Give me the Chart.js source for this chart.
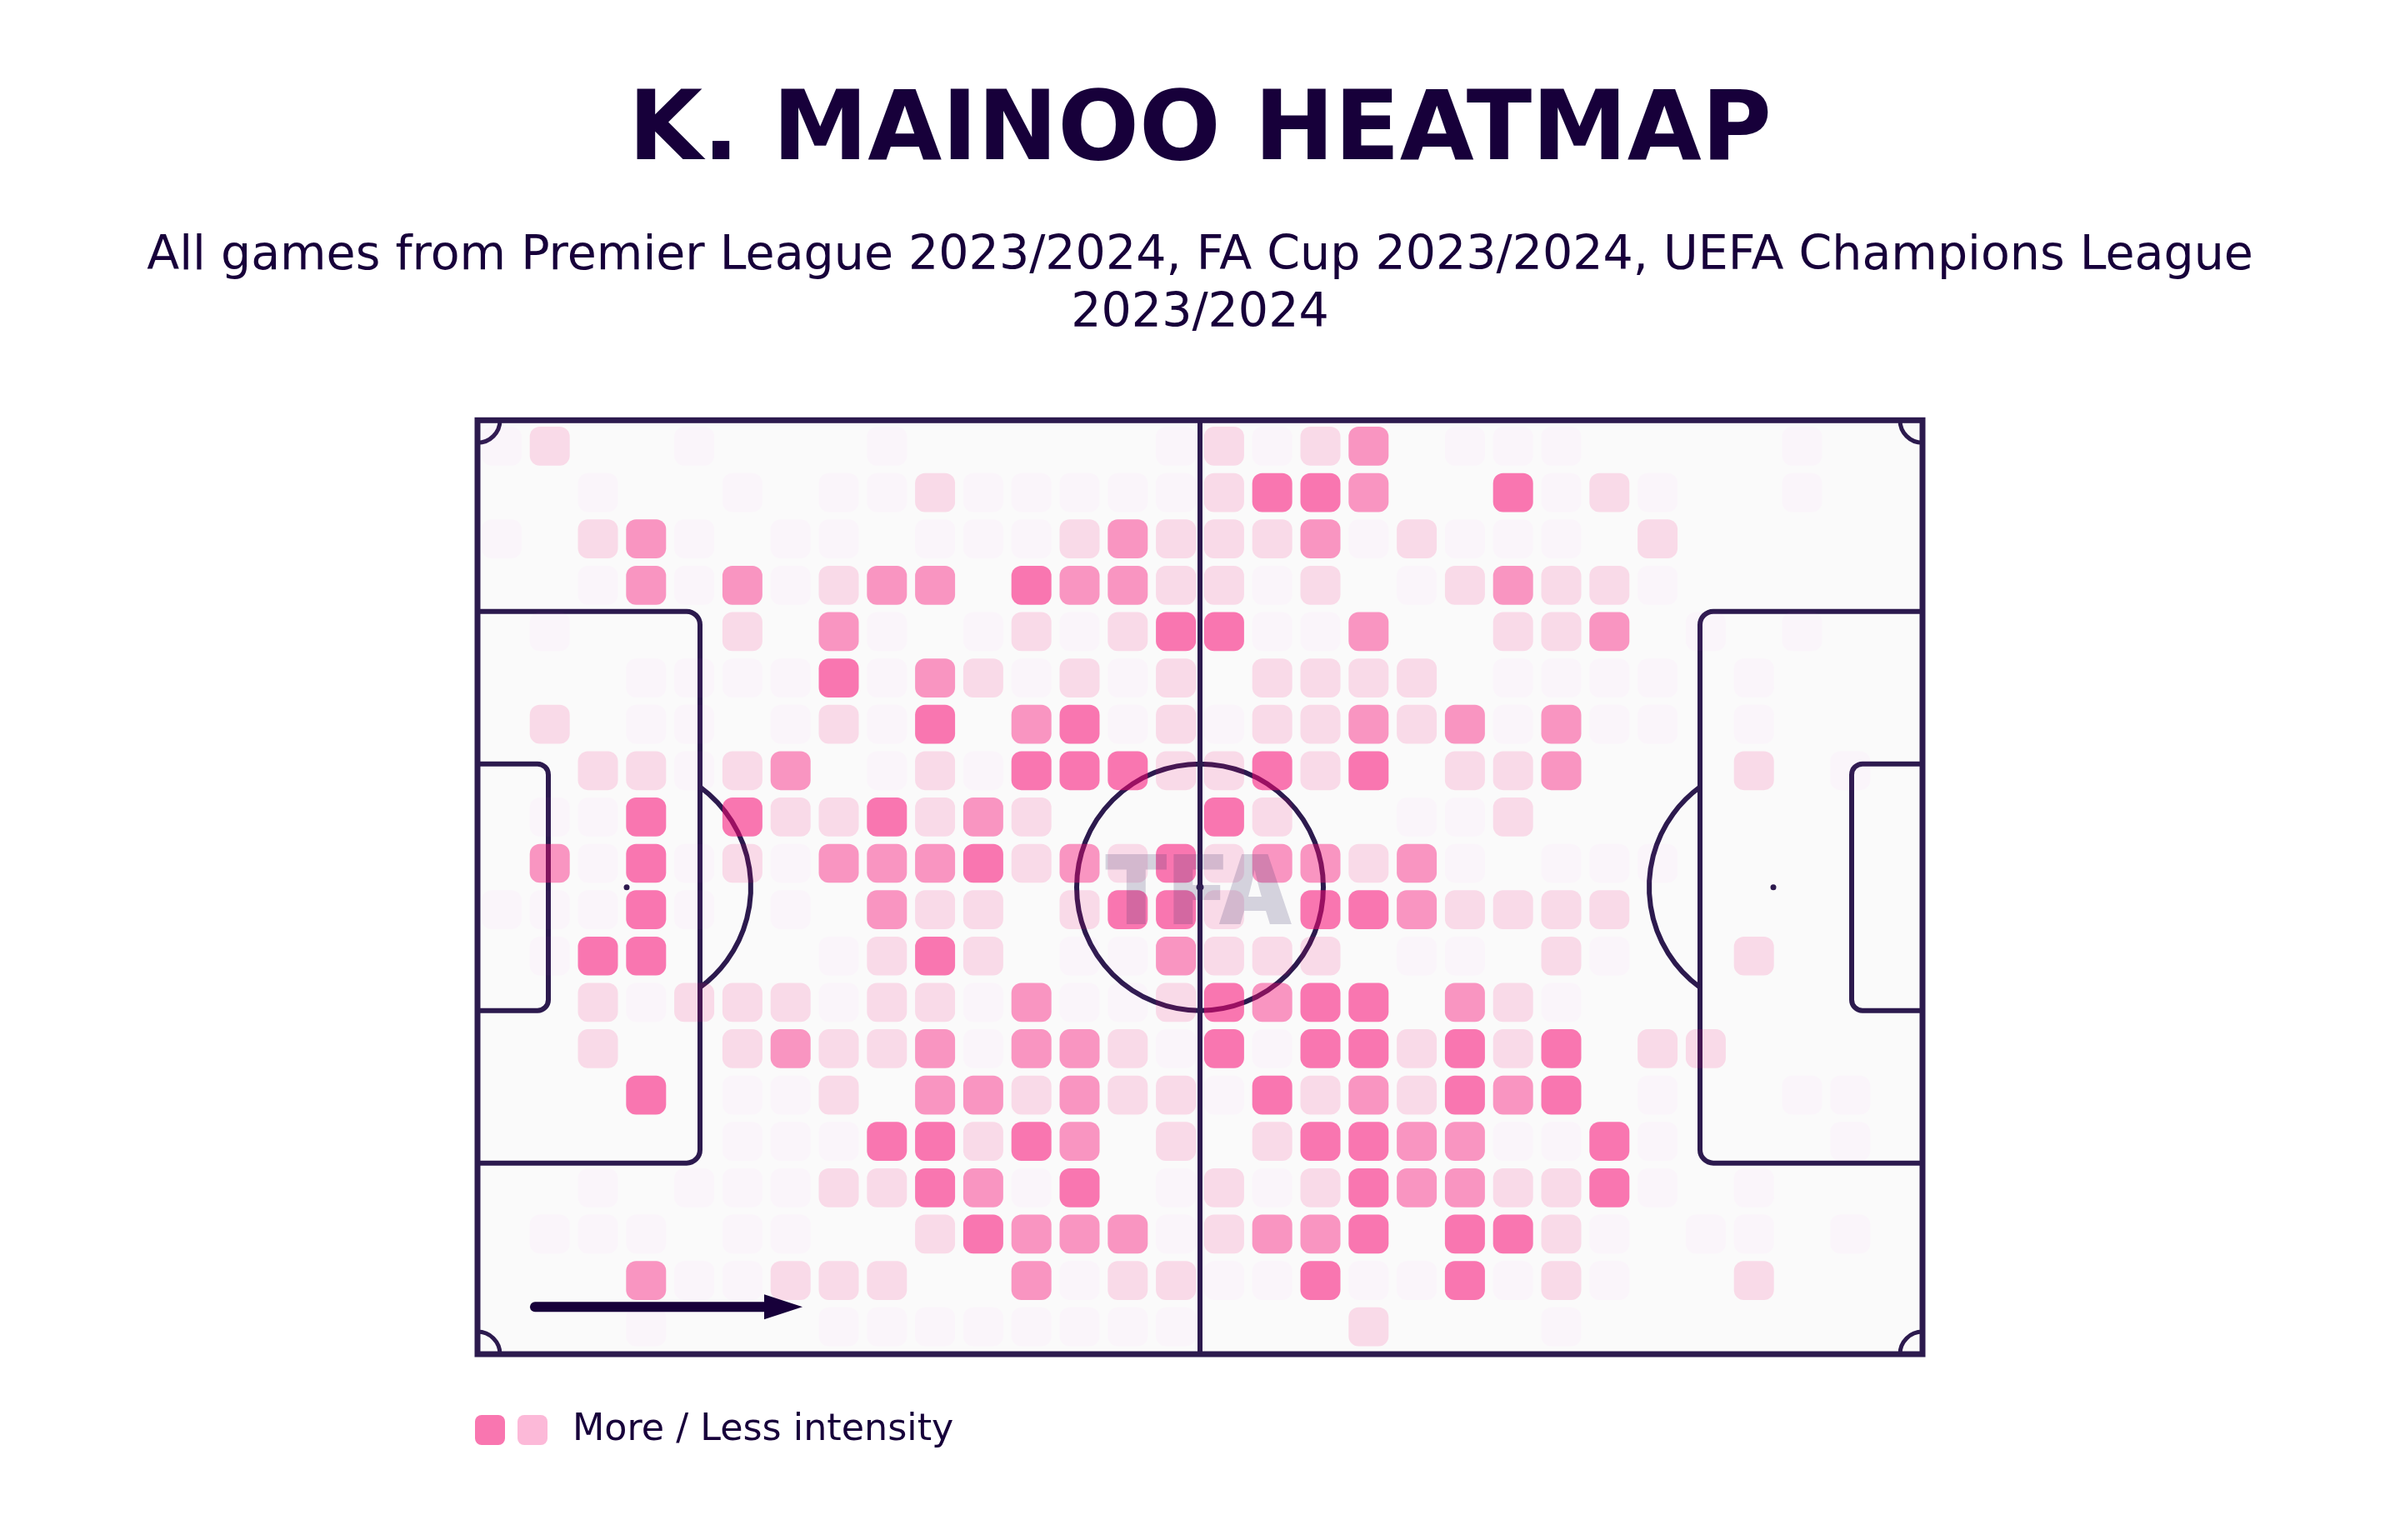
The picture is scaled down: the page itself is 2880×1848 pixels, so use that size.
<!DOCTYPE html>
<html>
<head>
<meta charset="utf-8">
<style>html,body{margin:0;padding:0;background:#fff}canvas{display:block}</style>
<script src="https://cdn.jsdelivr.net/npm/chart.js@4"></script>
</head>
<body>
<canvas id="c" width="2880" height="1848" style="width:2880px;height:1848px"></canvas>
<script>
const titleText = "K. MAINOO HEATMAP";
const subtitleLines = ["All games from Premier League 2023/2024, FA Cup 2023/2024, UEFA Champions League", "2023/2024"];
const legendText = "More / Less intensity";
const watermarkText = "TFA";

const columns = ["c1","c2","c3","c4","c5","c6","c7","c8","c9","c10","c11","c12","c13","c14","c15","c16","c17","c18","c19","c20","c21","c22","c23","c24","c25","c26","c27","c28","c29","c30"];
// intensity level per cell: 0 none, 1 faint, 2 light, 3 medium, 4 strong
const row01 = [1,2,0,0,1,0,0,0,1,0,0,0,0,0,1,2,1,2,3,0,1,1,1,0,0,0,0,1,0,0];
const row02 = [0,0,1,0,0,1,0,1,1,2,1,1,1,1,1,2,4,4,3,0,0,4,1,2,1,0,0,1,0,0];
const row03 = [1,0,2,3,1,0,1,1,0,1,1,1,2,3,2,2,2,3,1,2,1,1,1,0,2,0,0,0,0,0];
const row04 = [0,0,1,3,1,3,1,2,3,3,0,4,3,3,2,2,1,2,0,1,2,3,2,2,1,0,0,0,0,0];
const row05 = [0,1,0,0,0,2,0,3,1,0,1,2,1,2,4,4,1,1,3,0,0,2,2,3,0,1,0,1,0,0];
const row06 = [0,0,0,1,1,1,1,4,1,3,2,1,2,1,2,0,2,2,2,2,0,1,1,1,1,0,1,0,0,0];
const row07 = [0,2,0,1,1,0,1,2,1,4,0,3,4,1,2,1,2,2,3,2,3,1,3,1,1,0,1,0,0,0];
const row08 = [0,0,2,2,1,2,3,0,1,2,1,4,4,4,2,2,4,2,4,0,2,2,3,0,0,0,2,0,1,0];
const row09 = [0,1,1,4,0,4,2,2,4,2,3,2,0,0,0,4,2,0,0,1,1,2,0,0,0,0,0,0,0,0];
const row10 = [0,3,1,4,1,2,1,3,3,3,4,2,3,2,4,2,3,3,2,3,1,0,1,1,1,0,0,0,0,0];
const row11 = [1,1,1,4,1,0,1,0,3,2,2,0,2,4,4,2,0,4,4,3,2,2,2,2,0,0,0,0,0,0];
const row12 = [0,1,4,4,0,0,0,1,2,4,2,0,1,1,3,2,2,2,0,1,1,0,2,1,0,0,2,0,0,0];
const row13 = [0,0,2,1,2,2,2,1,2,2,1,3,1,1,2,4,3,4,4,0,3,2,1,0,0,0,0,0,0,0];
const row14 = [0,0,2,0,0,2,3,2,2,3,1,3,3,2,1,4,1,4,4,2,4,2,4,0,2,2,0,0,0,0];
const row15 = [0,0,0,4,0,1,1,2,0,3,3,2,3,2,2,1,4,2,3,2,4,3,4,0,1,0,0,1,1,0];
const row16 = [0,0,0,0,0,1,1,1,4,4,2,4,3,0,2,0,2,4,4,3,3,1,1,4,1,0,0,0,1,0];
const row17 = [0,0,1,0,1,1,1,2,2,4,3,1,4,0,1,2,1,2,4,3,3,2,2,4,1,0,1,0,0,0];
const row18 = [0,1,1,1,0,1,1,0,0,2,4,3,3,3,1,2,3,3,4,0,4,4,2,1,0,1,1,0,1,0];
const row19 = [0,0,0,3,1,1,2,2,2,0,0,3,1,2,2,1,1,4,1,1,4,1,2,1,0,0,2,0,0,0];
const row20 = [0,0,0,1,0,0,0,1,1,1,1,1,1,1,1,0,0,0,2,0,0,0,1,0,0,0,0,0,0,0];
const rows = [row01,row02,row03,row04,row05,row06,row07,row08,row09,row10,row11,row12,row13,row14,row15,row16,row17,row18,row19,row20];

const levelColors = [null,"rgba(250,100,250,0.03)","rgba(248,10,115,0.13)","rgba(248,10,115,0.42)","rgba(248,10,115,0.55)"];
const lineColor = "#2c1a4e";
const inkColor = "#17003a";

const datasets = rows.map((r,i)=>({
  label:"row "+(i+1),
  data:r.map(v=>v? [i+0.08,i+0.92]:null),
  backgroundColor:r.map(v=>levelColors[v]||"transparent"),
  borderSkipped:false,
  borderWidth:0,
  borderRadius:12,
  grouped:false,
  barPercentage:0.83,
  categoryPercentage:1
}));

// Pitch markings in pixel offsets measured against the chart area
const pitchPlugin = {
  id:"pitch",
  beforeDatasetsDraw(chart){
    const {ctx,chartArea:a} = chart;
    const L=a.left,R=a.right,T=a.top,B=a.bottom,CX=(L+R)/2,CY=(T+B)/2;
    ctx.save();
    ctx.fillStyle="#fafafa";
    ctx.fillRect(L,T,R-L,B-T);
    ctx.strokeStyle=lineColor; ctx.fillStyle=lineColor; ctx.lineWidth=6;
    const arc=(x,y,r,s,e)=>{ctx.beginPath();ctx.arc(x,y,r,s,e);ctx.stroke();};
    const box=(side,depth,half,rad)=>{
      const x0=side<0?L:R, x1=x0-side*depth;
      ctx.beginPath();
      ctx.moveTo(x0,CY-half);
      ctx.arcTo(x1,CY-half,x1,CY+half,rad);
      ctx.arcTo(x1,CY+half,x0,CY+half,rad);
      ctx.lineTo(x0,CY+half);
      ctx.stroke();
    };
    [-1,1].forEach(side=>{
      box(side,267,331,16);
      box(side,85,148,13);
      const sx=side<0?L+179:R-179;
      ctx.beginPath();ctx.arc(sx,CY,3.5,0,Math.PI*2);ctx.fill();
      const ang=Math.acos(88/149);
      if(side<0) arc(sx,CY,149,-ang,ang); else arc(sx,CY,149,Math.PI-ang,Math.PI+ang);
    });
    ctx.lineWidth=6;
    ctx.beginPath();ctx.moveTo(CX,T);ctx.lineTo(CX,B);ctx.stroke();
    arc(CX,CY,148,0,Math.PI*2);
    ctx.beginPath();ctx.arc(CX,CY,4.5,0,Math.PI*2);ctx.fill();
    ctx.lineWidth=5;
    arc(L,T,27,0,Math.PI/2);
    arc(R,T,27,Math.PI/2,Math.PI);
    arc(L,B,27,-Math.PI/2,0);
    arc(R,B,27,Math.PI,Math.PI*1.5);
    ctx.lineWidth=7;
    ctx.strokeRect(L,T,R-L,B-T);
    ctx.restore();
  },
  afterDatasetsDraw(chart){
    const {ctx,chartArea:a} = chart;
    const CX=(a.left+a.right)/2;
    ctx.save();
    // watermark
    ctx.font="900 116px Inter";
    ctx.fillStyle="rgba(62,52,105,0.2)";
    ctx.textAlign="center";ctx.textBaseline="alphabetic";
    ctx.fillText(watermarkText,CX-2,a.top+605);
    // direction arrow
    ctx.strokeStyle=inkColor;ctx.fillStyle=inkColor;ctx.lineCap="round";ctx.lineWidth=12;
    const ay=a.top+1064;
    ctx.beginPath();ctx.moveTo(a.left+69,ay);ctx.lineTo(a.left+346,ay);ctx.stroke();
    ctx.beginPath();ctx.moveTo(a.left+344,ay-15);ctx.lineTo(a.left+390,ay);ctx.lineTo(a.left+344,ay+15);ctx.closePath();ctx.fill();
    // legend
    const ly=a.bottom+73;
    ctx.fillStyle="#f976b0";ctx.beginPath();ctx.roundRect(a.left-3,ly,36,36,8);ctx.fill();
    ctx.fillStyle="#fcb9d8";ctx.beginPath();ctx.roundRect(a.left+48,ly,36,36,8);ctx.fill();
    ctx.fillStyle=inkColor;ctx.textAlign="left";ctx.font="400 44.4px 'DejaVu Sans'";
    ctx.fillText(legendText,a.left+114,a.bottom+103);
    ctx.restore();
  }
};

// Blank side axes hold the pitch inside the full-width title and subtitle
const sideAxis = (position)=>({
  position,
  display:true,
  min:-0.06,max:20.09,reverse:true,
  grid:{display:false},border:{display:false},ticks:{display:false},
  afterFit(scale){scale.width=573;}
});

new Chart(document.getElementById("c"),{
  type:"bar",
  data:{labels:columns,datasets},
  plugins:[pitchPlugin],
  options:{
    responsive:false,
    animation:false,
    devicePixelRatio:1,
    layout:{padding:{left:0,right:0,top:0,bottom:223}},
    scales:{
      x:{type:"category",display:false,grid:{display:false}},
      y:Object.assign({type:"linear"},sideAxis("left")),
      yRight:Object.assign({type:"linear"},sideAxis("right"))
    },
    plugins:{
      legend:{display:false},
      tooltip:{enabled:false},
      title:{display:true,text:titleText,color:inkColor,font:{family:"'DejaVu Sans'",size:115,weight:"700",lineHeight:1},padding:{top:104,bottom:55}},
      subtitle:{display:true,text:subtitleLines,color:inkColor,font:{family:"'DejaVu Sans'",size:57,weight:"400",lineHeight:1.2105},padding:{top:0,bottom:92.3}}
    }
  }
});
</script>
</body>
</html>
